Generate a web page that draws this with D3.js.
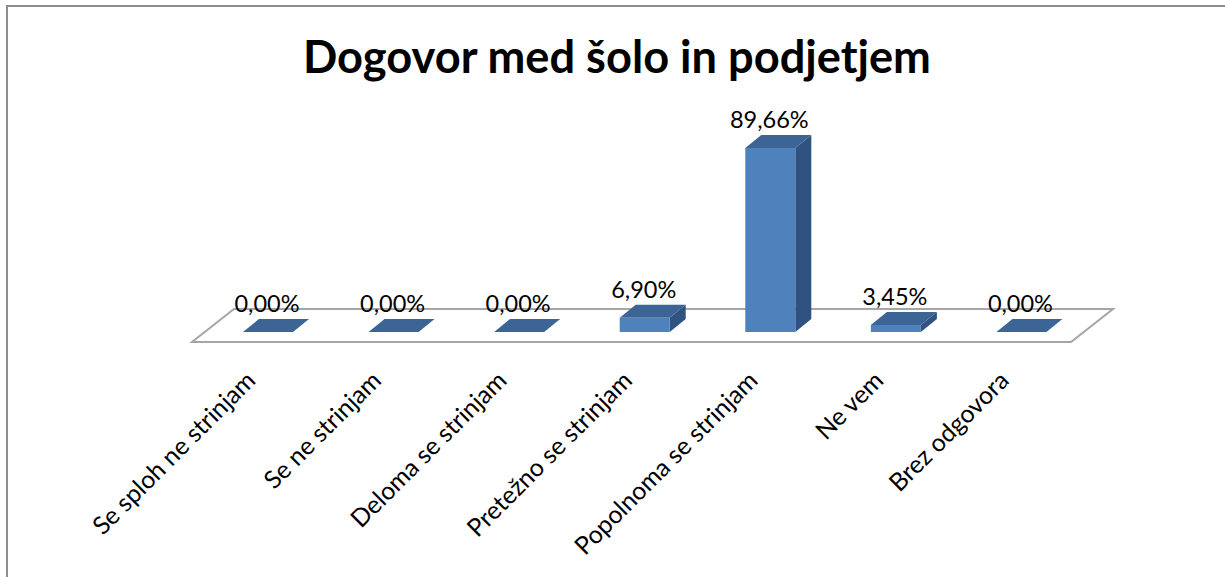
<!DOCTYPE html>
<html><head><meta charset="utf-8">
<script src="https://cdn.jsdelivr.net/npm/d3@7"></script>
<style>html,body{margin:0;padding:0;background:#fff;overflow:hidden}svg{display:block}text{font-family:Lato,"Open Sans",sans-serif;fill:#000}</style>
</head><body><svg id="c" width="1225" height="577"></svg>
<script>
const chartTitle = "Dogovor med šolo in podjetjem";
const categories = ["Se sploh ne strinjam","Se ne strinjam","Deloma se strinjam","Pretežno se strinjam","Popolnoma se strinjam","Ne vem","Brez odgovora"];
const values = [0,0,0,6.90,89.66,3.45,0];
const valueLabels = ["0,00%","0,00%","0,00%","6,90%","89,66%","3,45%","0,00%"];

const svg = d3.select("#c");
const W=1225,H=577;
svg.append("path").attr("d",`M7,${H}V6H${W}`).attr("fill","none").attr("stroke","#8e8e8e").attr("stroke-width",2);

const floorL=192, floorR=1071, floorY=342, depthX=42, depthY=33;
const barDX=16, barDY=13;
const barBase=332;
const y=d3.scaleLinear().domain([0,89.66]).range([barBase,148]);
const barW=50;
const band=d3.scaleBand().domain(d3.range(categories.length)).range([floorL,floorR]);
const frontX=i=>band(i)+51;

svg.append("path")
 .attr("d",`M${floorL},${floorY}H${floorR}L${floorR+depthX},${floorY-depthY}H${floorL+depthX}Z`)
 .attr("fill","#fff").attr("stroke","#a6a6a6").attr("stroke-width",2);

const g=svg.append("g").selectAll("g").data(categories.map((c,i)=>({c,i,v:values[i],l:valueLabels[i]}))).join("g");
g.append("path").attr("fill","#2f5280")
 .attr("d",d=>{const X=frontX(d.i)+barW,T=y(d.v);return `M${X},${barBase}V${T}l${barDX},${-barDY}V${barBase-barDY}Z`;});
g.append("path").attr("fill","#3c6494")
 .attr("d",d=>{const X=frontX(d.i),T=y(d.v);return `M${X},${T}h${barW}l${barDX},${-barDY}h${-barW}Z`;});
g.append("rect").attr("fill","#4f81bd").attr("x",d=>frontX(d.i)).attr("width",barW).attr("y",d=>y(d.v)).attr("height",d=>barBase-y(d.v));

g.append("text").text(d=>d.l).attr("text-anchor","middle").attr("font-size",23.5)
 .attr("x",d=>frontX(d.i)+barW/2-1).attr("y",d=>y(d.v)-20);

svg.append("g").selectAll("text").data(categories).join("text").text(d=>d)
 .attr("text-anchor","end").attr("font-size",24.8)
 .attr("transform",(d,i)=>`translate(${frontX(i)+14},${382}) rotate(-45)`);

svg.append("text").text(chartTitle).attr("x",617).attr("y",73).attr("text-anchor","middle").attr("font-size",45.2).attr("font-weight",700);
</script></body></html>
